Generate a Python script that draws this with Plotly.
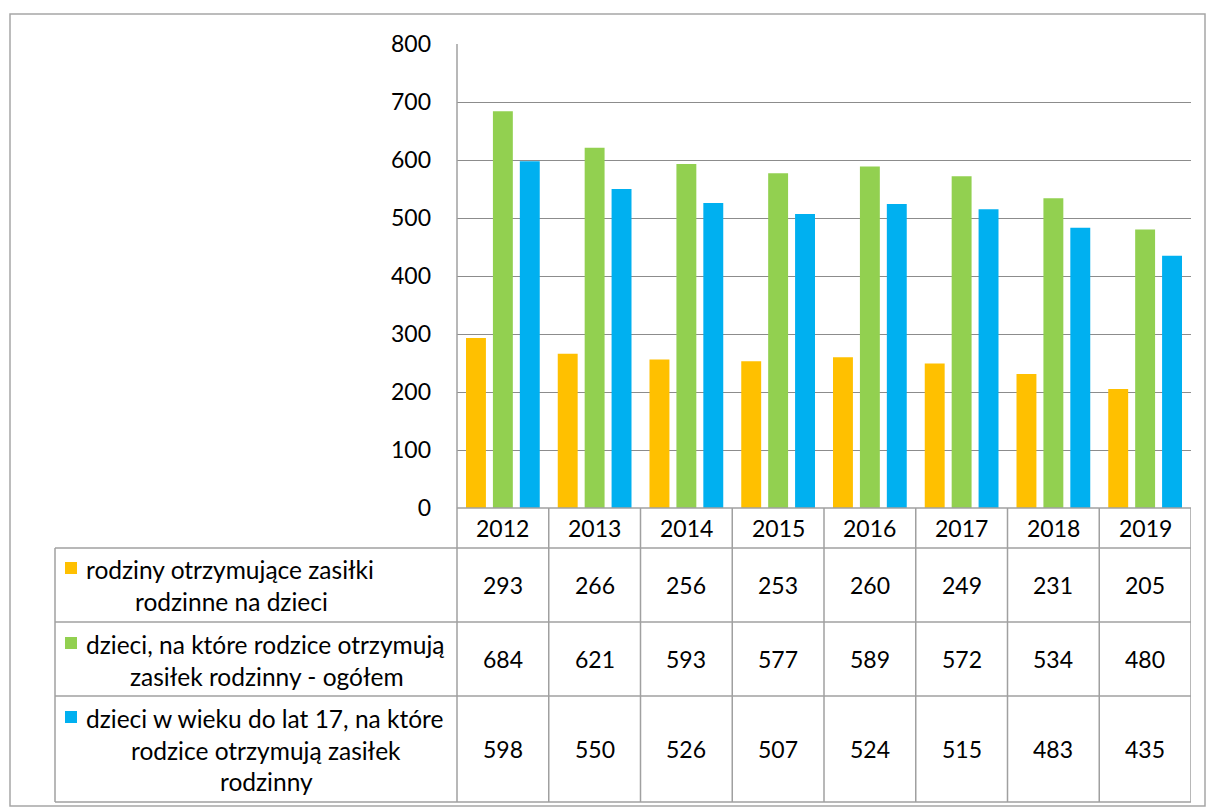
import plotly.graph_objects as go

years = ["2012", "2013", "2014", "2015", "2016", "2017", "2018", "2019"]
rodziny = [293, 266, 256, 253, 260, 249, 231, 205]
dzieci_ogolem = [684, 621, 593, 577, 589, 572, 534, 480]
dzieci_do_17 = [598, 550, 526, 507, 524, 515, 483, 435]
series_names = [
    ["rodziny otrzymujące zasiłki", "rodzinne na dzieci"],
    ["dzieci, na które rodzice otrzymują", "zasiłek rodzinny - ogółem"],
    ["dzieci w wieku do lat 17, na które", "rodzice otrzymują zasiłek", "rodzinny"],
]
colors = ["#FFC000", "#92D050", "#00B0F0"]
y_ticks = [0, 100, 200, 300, 400, 500, 600, 700, 800]

W, H = 1206, 807
FONT = "Lato"
FS = 23
FS_LEG = 24.5
GRID = "#8C8C8C"
LINE = "#A0A0A0"


def px(p):
    return p / W


def py(p):
    return 1 - p / H


fig = go.Figure()
for vals, name, col in zip([rodziny, dzieci_ogolem, dzieci_do_17], series_names, colors):
    fig.add_trace(go.Bar(x=years, y=vals, name=" ".join(name), marker=dict(color=col, line=dict(width=0))))

shapes = []
annotations = []

plot_left, plot_right, plot_top, plot_bottom = 457, 1191, 44, 508
header_bottom = 548
table_left = 55

# outer chart border
shapes.append(dict(type="rect", xref="paper", yref="paper", x0=px(10), x1=px(1205), y0=py(806), y1=py(14),
                   line=dict(color="#A6A6A6", width=1.5), layer="below"))
# vertical axis line at plot left, down through table
shapes.append(dict(type="line", xref="paper", yref="paper", x0=px(plot_left), x1=px(plot_left),
                   y0=py(802), y1=py(plot_top), line=dict(color=LINE, width=1.5)))
# left border of table
shapes.append(dict(type="line", xref="paper", yref="paper", x0=px(table_left), x1=px(table_left),
                   y0=py(802), y1=py(header_bottom), line=dict(color=LINE, width=1.5)))
# horizontal lines
shapes.append(dict(type="line", xref="paper", yref="paper", x0=px(plot_left), x1=px(plot_right),
                   y0=py(plot_bottom), y1=py(plot_bottom), line=dict(color=LINE, width=1.5)))
for yy in [548, 622, 696, 802]:
    shapes.append(dict(type="line", xref="paper", yref="paper", x0=px(table_left), x1=px(plot_right),
                       y0=py(yy), y1=py(yy), line=dict(color=LINE, width=1.5)))
# category boundaries
for i in range(len(years)):
    shapes.append(dict(type="line", xref="x", yref="paper", x0=i + 0.5, x1=i + 0.5,
                       y0=py(802), y1=py(plot_bottom), line=dict(color=LINE, width=1.5)))

# legend cells
key_y = [(562, 574), (637, 649), (711, 723)]
line_y = [[569, 601], [644, 676], [718, 750, 781]]
line_cx = [231, 267, 266]
for r in range(3):
    shapes.append(dict(type="rect", xref="paper", yref="paper", x0=px(65), x1=px(77),
                       y0=py(key_y[r][1]), y1=py(key_y[r][0]), fillcolor=colors[r], line=dict(width=0)))
    for k, (txt, yy) in enumerate(zip(series_names[r], line_y[r])):
        if k == 0:
            annotations.append(dict(xref="paper", yref="paper", x=px(84), y=py(yy), text=txt, showarrow=False,
                                    xanchor="left", yanchor="middle",
                                    font=dict(family=FONT, size=FS_LEG, color="black")))
        else:
            annotations.append(dict(xref="paper", yref="paper", x=px(line_cx[r]), y=py(yy), text=txt,
                                    showarrow=False, xanchor="center", yanchor="middle",
                                    font=dict(family=FONT, size=FS_LEG, color="black")))

# values
row_centers = [585, 659, 749]
for r, vals in enumerate([rodziny, dzieci_ogolem, dzieci_do_17]):
    for i, v in enumerate(vals):
        annotations.append(dict(xref="x", yref="paper", x=i, y=py(row_centers[r]), text=str(v),
                                showarrow=False, xanchor="center", yanchor="middle",
                                font=dict(family=FONT, size=FS, color="black")))
# year header
for i, yr in enumerate(years):
    annotations.append(dict(xref="x", yref="paper", x=i, y=py(528), text=yr, showarrow=False,
                            xanchor="center", yanchor="middle", font=dict(family=FONT, size=FS, color="black")))

fig.update_layout(
    width=W, height=H,
    margin=dict(l=0, r=0, t=0, b=0, pad=0, autoexpand=False),
    paper_bgcolor="white", plot_bgcolor="white",
    barmode="group", bargap=0.12, bargroupgap=0.26,
    showlegend=False,
    font=dict(family=FONT, size=FS, color="black"),
    xaxis=dict(type="category", domain=[px(plot_left), px(plot_right)], range=[-0.5, 7.5], showticklabels=False,
               showgrid=False, zeroline=False, showline=False, fixedrange=True, automargin=False),
    yaxis=dict(domain=[py(plot_bottom), py(plot_top)], range=[0, 800], tickvals=y_ticks, automargin=False,
               showgrid=True, gridcolor=GRID, gridwidth=1, zeroline=False, showline=False, fixedrange=True,
               ticks="", ticklabelstandoff=25, tickfont=dict(family=FONT, size=FS, color="black")),
    shapes=shapes,
    annotations=annotations,
)

fig.write_html("out.html", config={"displayModeBar": False},
               post_script="document.body.style.margin='0';document.body.style.overflow='hidden';")
